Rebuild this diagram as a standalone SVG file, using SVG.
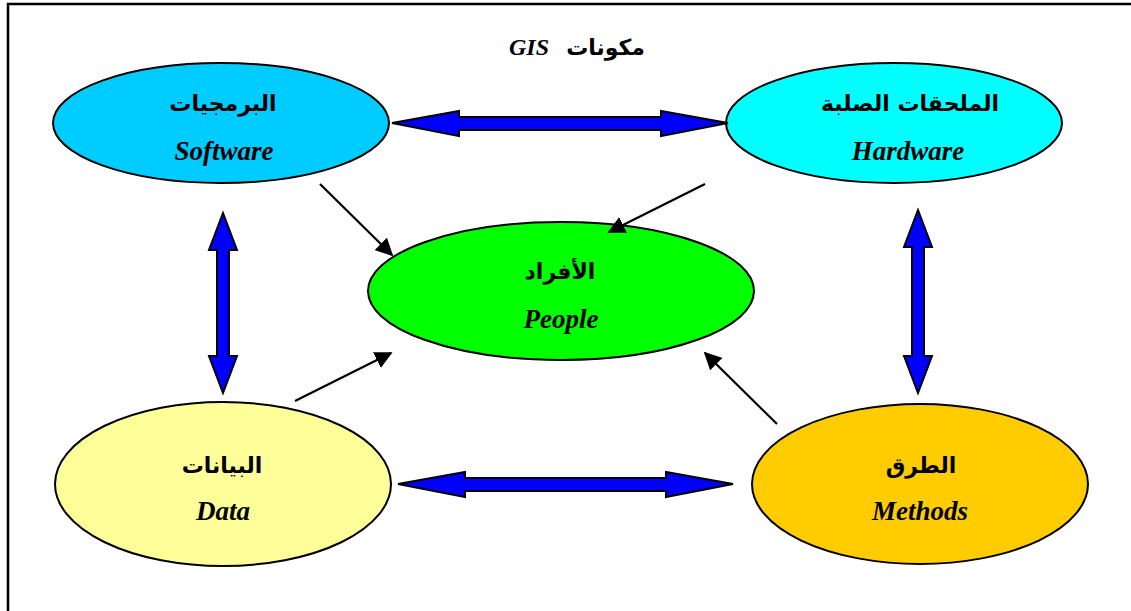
<svg xmlns="http://www.w3.org/2000/svg" width="1131" height="611" viewBox="0 0 1131 611">
<defs>
<style>
.node ellipse{stroke:#000;stroke-width:2}
.ar{font-family:"DejaVu Sans","Liberation Sans",sans-serif;font-weight:bold;font-size:22px;text-anchor:middle;fill:#000}
.en{font-family:"Liberation Serif","Times New Roman",serif;font-weight:bold;font-style:italic;font-size:27px;text-anchor:middle;fill:#000}
.dbl{fill:#0000FF;stroke:#000;stroke-width:2;stroke-linejoin:miter}
.thin{stroke:#000;stroke-width:2.2;fill:none}
</style>
<marker id="ahs" viewBox="0 0 10 10" refX="9" refY="5" markerWidth="8" markerHeight="8" orient="auto">
<path d="M0,0 L10,5 L0,10 z" fill="#000"/>
</marker>
</defs>
<rect x="0" y="0" width="1131" height="611" fill="#fff"/>
<path d="M8,611 V4 H1131" fill="none" stroke="#000" stroke-width="2.5"/>

<g id="title">
<text x="549" y="55" font-family="Liberation Serif,serif" font-weight="bold" font-style="italic" font-size="24" text-anchor="end">GIS</text>
<text x="645" y="55" font-family="DejaVu Sans,sans-serif" font-weight="bold" font-size="22" text-anchor="end">مكونات</text>
</g>

<g id="software" class="node">
<ellipse cx="221" cy="123" rx="168" ry="60" fill="#00CCFF"/>
<text class="ar" x="223" y="111">البرمجيات</text>
<text class="en" x="224" y="160">Software</text>
</g>

<g id="hardware" class="node">
<ellipse cx="894" cy="123" rx="168" ry="60" fill="#00FFFF"/>
<text class="ar" x="910" y="111">الملحقات الصلبة</text>
<text class="en" x="908" y="160">Hardware</text>
</g>

<g id="people" class="node">
<ellipse cx="561" cy="291" rx="193" ry="69" fill="#00FF00"/>
<text class="ar" x="560" y="279">الأفراد</text>
<text class="en" x="561" y="328">People</text>
</g>

<g id="data" class="node">
<ellipse cx="223" cy="484" rx="168" ry="82" fill="#FFFF99"/>
<text class="ar" x="222" y="473">البيانات</text>
<text class="en" x="223" y="520">Data</text>
</g>

<g id="methods" class="node">
<ellipse cx="920" cy="484" rx="168" ry="80" fill="#FFCC00"/>
<text class="ar" x="921" y="473">الطرق</text>
<text class="en" x="920" y="520">Methods</text>
</g>

<g id="connectors">
<path class="dbl" d="M392,123 L459,111 L459,117 L661,117 L661,111 L728,123 L661,136 L661,130 L459,130 L459,136 Z"/>
<path class="dbl" d="M398,484 L465,472 L465,478 L666,478 L666,472 L733,484 L666,497 L666,491 L465,491 L465,497 Z"/>
<path class="dbl" d="M223,213 L237,250 L229,250 L229,356 L237,356 L223,393 L209,356 L217,356 L217,250 L209,250 Z"/>
<path class="dbl" d="M918,210 L932,247 L924,247 L924,356 L932,356 L918,393 L904,356 L912,356 L912,247 L904,247 Z"/>
<line class="thin" x1="320" y1="184" x2="392" y2="255" marker-end="url(#ahs)"/>
<line class="thin" x1="705" y1="184" x2="609" y2="232" marker-end="url(#ahs)"/>
<line class="thin" x1="295" y1="401" x2="391" y2="353" marker-end="url(#ahs)"/>
<line class="thin" x1="777" y1="424" x2="705" y2="353" marker-end="url(#ahs)"/>
</g>
</svg>
